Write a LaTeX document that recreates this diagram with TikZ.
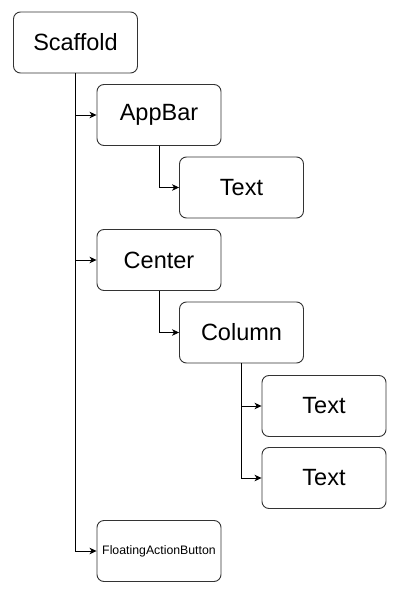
\documentclass[tikz,border=0pt]{standalone}
\usepackage{fontspec}
\setmainfont{Liberation Sans}
\usetikzlibrary{arrows.meta}
\begin{document}
\begin{tikzpicture}[x=1pt,y=-1pt,
  wbox/.style={draw=black!80, line width=0.9pt, rounded corners=7pt, minimum width=124pt, minimum height=61pt, inner sep=0pt, font=\fontsize{23.5}{28}\selectfont, fill=white},
  smallbox/.style={wbox, font=\fontsize{12.3}{14}\selectfont},
  conn/.style={draw=black, line width=0.8pt, -{Stealth[length=7pt,width=6.5pt,inset=2pt]}}]
\useasboundingbox[fill=white] (0,0) rectangle (401,593);
\node[wbox] (scaffold) at (75.5,42.5) {Scaffold};
\node[wbox] (appbar) at (159,115) {AppBar};
\node[wbox] (text1) at (241.5,187.5) {Text};
\node[wbox] (center) at (159,260) {Center};
\node[wbox] (column) at (241.5,332.5) {Column};
\node[wbox] (text2) at (324,406) {Text};
\node[wbox] (text3) at (324,478) {Text};
\node[smallbox] (fab) at (159,551) {FloatingActionButton};
\draw[conn] (scaffold.south) |- (appbar.west);
\draw[conn] (scaffold.south) |- (center.west);
\draw[conn] (scaffold.south) |- (fab.west);
\draw[conn] (appbar.south) |- (text1.west);
\draw[conn] (center.south) |- (column.west);
\draw[conn] (column.south) |- (text2.west);
\draw[conn] (column.south) |- (text3.west);
\end{tikzpicture}
\end{document}
